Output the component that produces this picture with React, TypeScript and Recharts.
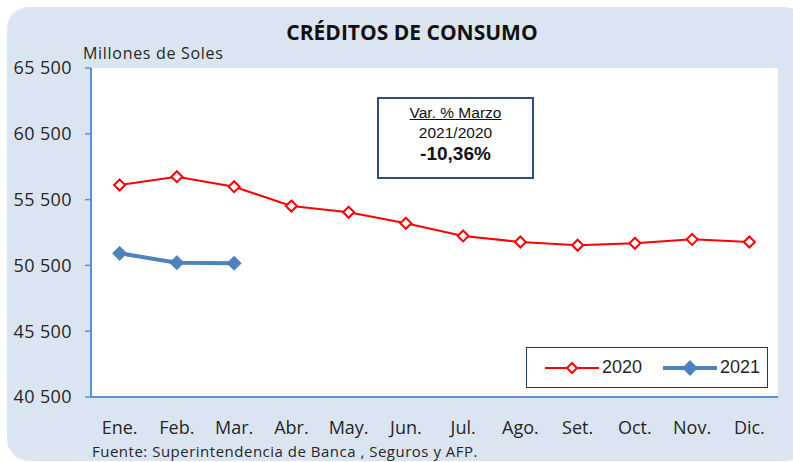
import type { JSX } from 'react'
import { LineChart, Line, XAxis, YAxis, CartesianGrid, Legend } from 'recharts'

const months = ['Ene.', 'Feb.', 'Mar.', 'Abr.', 'May.', 'Jun.', 'Jul.', 'Ago.', 'Set.', 'Oct.', 'Nov.', 'Dic.']
const credits2020 = [56610, 57240, 56480, 55010, 54540, 53700, 52740, 52280, 52030, 52180, 52480, 52280]
const credits2021 = [51420, 50710, 50660]
const yTicks = [40500, 45500, 50500, 55500, 60500, 65500]
const boundaryTicks = months.map((_, i) => i).concat(months.length)
const labelTicks = months.map((_, i) => i + 0.5)

const data = months.map((month, i) => ({
  pos: i + 0.5,
  month,
  y2020: credits2020[i],
  y2021: i < credits2021.length ? credits2021[i] : null
}))

const BORDER = '#5b8fd8'
const RED = '#ff0000'
const BLUE = '#4f81bd'
const TEXT = '#262626'
const CALIBRI = '"Open Sans", "Noto Sans", sans-serif'
const ARIAL = '"Liberation Sans", Arial, sans-serif'

const diamond = (cx: number, cy: number, r: number) =>
  `M${cx},${cy - r}L${cx + r},${cy}L${cx},${cy + r}L${cx - r},${cy}Z`

const hollowDot = (p: any) => {
  if (p.cx == null || p.cy == null || p.value == null) return <g key={p.key ?? p.index} />
  return <path key={p.key ?? p.index} d={diamond(p.cx, p.cy, 5.5)} fill="#fff" stroke={RED} strokeWidth={2} />
}

const solidDot = (p: any) => {
  if (p.cx == null || p.cy == null || p.value == null) return <g key={p.key ?? p.index} />
  return <path key={p.key ?? p.index} d={diamond(p.cx, p.cy, 7)} fill={BLUE} stroke={BLUE} strokeWidth={1} />
}

const renderLegend = (): JSX.Element => {
  const items = [
    { name: '2020', color: RED, width: 2, solid: false },
    { name: '2021', color: BLUE, width: 4, solid: true }
  ]
  return (
    <div style={{
      width: 242, height: 41, border: '1px solid #203864', background: '#fff',
      display: 'flex', alignItems: 'center', paddingLeft: 17, boxSizing: 'border-box'
    }}>
      {items.map((it) => (
        <div key={it.name} style={{ display: 'flex', alignItems: 'center', marginRight: 20 }}>
          <svg width={56} height={16}>
            <line x1={1} y1={8} x2={55} y2={8} stroke={it.color} strokeWidth={it.width} />
            <path d={diamond(28, 8, it.solid ? 6.5 : 5)} fill={it.solid ? it.color : '#fff'} stroke={it.color} strokeWidth={2} />
          </svg>
          <span style={{ fontFamily: ARIAL, fontSize: 18, color: TEXT, marginLeft: 2 }}>{it.name}</span>
        </div>
      ))}
    </div>
  )
}

export default function App(): JSX.Element {
  return (
    <div style={{ position: 'relative', width: 793, height: 462, overflow: 'hidden', background: '#fff' }}>
      <style>{'body{margin:0;overflow:hidden}'}</style>
      <div style={{
        position: 'absolute', left: 7, top: 7, width: 800, height: 454,
        background: '#dbe5f1', borderRadius: 22
      }} />
      <div style={{
        position: 'absolute', left: 0, top: 18, width: 824, textAlign: 'center',
        fontFamily: CALIBRI, fontWeight: 700, fontSize: 21, color: '#111'
      }}>CRÉDITOS DE CONSUMO</div>
      <div style={{
        position: 'absolute', left: 83, top: 42, fontFamily: CALIBRI, fontSize: 16, letterSpacing: 0.7, color: TEXT
      }}>Millones de Soles</div>
      <div style={{ position: 'absolute', left: 0, top: 0 }}>
        <LineChart width={793} height={462} data={data} margin={{ top: 68, right: 15, left: 11, bottom: 17 }}>
          <CartesianGrid fill="#fff" horizontal={false} vertical={false} />
          <XAxis
            dataKey="pos"
            type="number"
            domain={[0, 12]}
            ticks={boundaryTicks}
            tick={false}
            tickSize={6}
            height={8}
            axisLine={{ stroke: BORDER, strokeWidth: 2 }}
            tickLine={{ stroke: BORDER, strokeWidth: 1.5 }}
          />
          <XAxis
            xAxisId="lab"
            dataKey="pos"
            type="number"
            domain={[0, 12]}
            ticks={labelTicks}
            tickFormatter={(v: number) => months[Math.floor(v)]}
            tickSize={8}
            tickMargin={8}
            height={40}
            axisLine={false}
            tickLine={false}
            tick={{ fill: TEXT, fontSize: 18, fontFamily: CALIBRI }}
          />
          <XAxis
            xAxisId="top"
            orientation="top"
            dataKey="pos"
            type="number"
            domain={[0, 12]}
            height={0}
            tick={false}
            tickLine={false}
            axisLine={{ stroke: BORDER, strokeWidth: 2 }}
          />
          <YAxis
            type="number"
            domain={[40500, 65500]}
            ticks={yTicks}
            width={80}
            tickSize={6}
            tickMargin={13}
            interval={0}
            tickFormatter={(v: number) => `${Math.floor(v / 1000)} ${String(v % 1000).padStart(3, '0')}`}
            axisLine={{ stroke: BORDER, strokeWidth: 2 }}
            tickLine={{ stroke: BORDER, strokeWidth: 1.5 }}
            tick={{ fill: TEXT, fontSize: 18, fontFamily: CALIBRI, letterSpacing: 0.4 }}
          />
          <YAxis
            yAxisId="right"
            orientation="right"
            type="number"
            domain={[40500, 65500]}
            width={0}
            tick={false}
            tickLine={false}
            axisLine={{ stroke: BORDER, strokeWidth: 2 }}
          />
          <Legend
            content={renderLegend}
            layout="vertical"
            align="center"
            verticalAlign="middle"
            wrapperStyle={{ position: 'absolute', left: 526, top: 347, width: 242, height: 41 }}
          />
          <Line
            type="linear"
            dataKey="y2020"
            name="2020"
            stroke={RED}
            strokeWidth={2}
            dot={hollowDot}
            activeDot={false}
            isAnimationActive={false}
          />
          <Line
            type="linear"
            dataKey="y2021"
            name="2021"
            stroke={BLUE}
            strokeWidth={4}
            dot={solidDot}
            activeDot={false}
            connectNulls={false}
            isAnimationActive={false}
          />
        </LineChart>
      </div>
      <div style={{
        position: 'absolute', left: 377, top: 97, width: 157, height: 82, boxSizing: 'border-box',
        border: '2px solid #2f4d7e', background: '#fff', textAlign: 'center', fontFamily: ARIAL, color: '#111'
      }}>
        <div style={{ fontSize: 15.5, marginTop: 5, textDecoration: 'underline' }}>Var. % Marzo</div>
        <div style={{ fontSize: 15.5, marginTop: 2 }}>2021/2020</div>
        <div style={{ fontSize: 19, fontWeight: 700, marginTop: 1 }}>-10,36%</div>
      </div>
      <div style={{
        position: 'absolute', left: 92, top: 441, fontFamily: CALIBRI, fontSize: 15, letterSpacing: 0.5, color: TEXT
      }}>Fuente: Superintendencia de Banca , Seguros y AFP.</div>
    </div>
  )
}
